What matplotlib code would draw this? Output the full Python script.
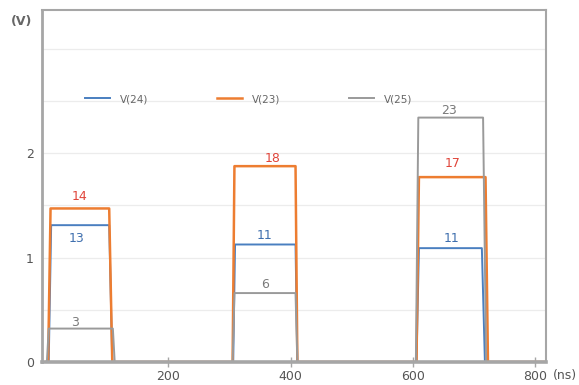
import numpy as np
import matplotlib
matplotlib.use('Agg')
import matplotlib.pyplot as plt

# piecewise-linear waveforms (time in ns, volts)
t_24 = [0, 4, 8, 103, 108, 306, 309, 408, 411, 606, 610, 713, 718, 818]
v_24 = [0, 0, 1.31, 1.31, 0, 0, 1.125, 1.125, 0, 0, 1.09, 1.09, 0, 0]

t_23 = [0, 3, 7, 103, 108, 305, 308, 408, 411, 606, 610, 719, 723, 818]
v_23 = [0, 0, 1.47, 1.47, 0, 0, 1.875, 1.875, 0, 0, 1.77, 1.77, 0, 0]

t_25 = [0, 1, 4, 109, 112, 305, 308, 408, 411, 605, 609, 715, 720, 818]
v_25 = [0, 0, 0.32, 0.32, 0, 0, 0.66, 0.66, 0, 0, 2.34, 2.34, 0, 0]

series_names = ['V(24)', 'V(23)', 'V(25)']

# level labels: (x, y, text, series)
lbl_x = [55, 50, 47, 370, 358, 358, 665, 664, 660]
lbl_y = [1.58, 1.18, 0.38, 1.95, 1.21, 0.74, 1.90, 1.18, 2.41]
lbl_txt = ['14', '13', '3', '18', '11', '6', '17', '11', '23']
lbl_ser = [1, 0, 2, 1, 0, 2, 1, 0, 2]

xticks = [200, 400, 600, 800]
yticks = [0, 1, 2]

BLUE = '#4a7fc0'
ORANGE = '#ed7d31'
GRAY = '#9a9a9a'
text_cols = ['#3f6fae', '#e0453a', '#7a7a7a']
AXCOL = '#a6a6a6'

fig = plt.figure(figsize=(5.79, 3.85), dpi=100)
ax = fig.add_axes([42/579, 1-362/385, 504/579, 352/385])

for yy in np.arange(0.5, 3.01, 0.5):
    ax.axhline(yy, color='#ececec', lw=0.9, zorder=0)

ax.plot(t_24, v_24, color=BLUE, lw=1.4, label=series_names[0], zorder=2)
ax.plot(t_23, v_23, color=ORANGE, lw=1.8, label=series_names[1], zorder=3)
ax.plot(t_25, v_25, color=GRAY, lw=1.4, label=series_names[2], zorder=4)

for x, y, s, k in zip(lbl_x, lbl_y, lbl_txt, lbl_ser):
    ax.text(x, y, s, color=text_cols[k], fontsize=9, ha='center', va='center', zorder=5)

ax.set_xlim(-7, 818)
ax.set_ylim(0, 3.37)
ax.set_xticks(xticks)
ax.set_xticklabels([str(v) for v in xticks])
ax.set_yticks(yticks)
ax.tick_params(axis='x', direction='inout', length=7, width=1, color=AXCOL,
               labelsize=9, labelcolor='#555555', pad=2)
ax.tick_params(axis='y', length=0, labelsize=9, labelcolor='#555555', pad=6)

ax.spines['left'].set_color(AXCOL)
ax.spines['left'].set_linewidth(2)
ax.spines['bottom'].set_color(AXCOL)
ax.spines['bottom'].set_linewidth(2.6)
for side in ['top', 'right']:
    ax.spines[side].set_color(AXCOL)
    ax.spines[side].set_linewidth(1.5)
for sp in ax.spines.values():
    sp.set_zorder(10)

leg = ax.legend(loc='center left', bbox_to_anchor=(0.085, 0.747), ncol=3,
                frameon=False, fontsize=7.5, handlelength=2.4, handletextpad=0.95,
                columnspacing=6.6, borderpad=0, borderaxespad=0)
for txt in leg.get_texts():
    txt.set_color('#666666')

fig.text(22/579, 1-22/385, '(V)', fontsize=9, color='#666666', ha='center', va='center',
         fontweight='bold')
fig.text(565/579, 1-375/385, '(ns)', fontsize=9, color='#555555', ha='center', va='center')

fig.savefig('out.png', dpi=100)
